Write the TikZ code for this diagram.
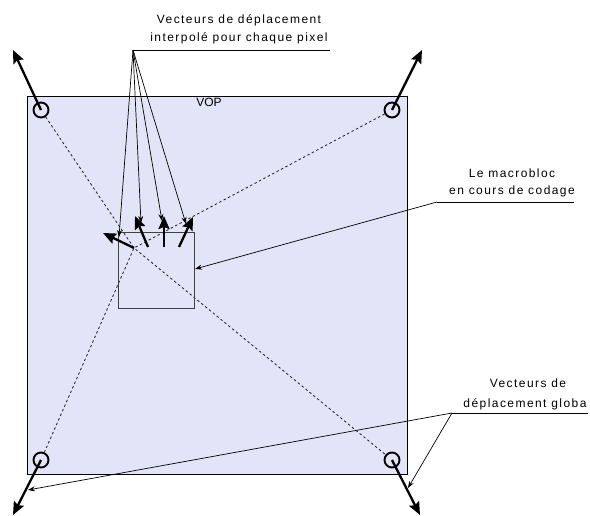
\documentclass[tikz,border=0pt]{standalone}
\usepackage{fontspec}
\setmainfont{Liberation Sans}[LetterSpace=12]
\usetikzlibrary{arrows.meta}
\definecolor{vopfill}{RGB}{228,228,248}
\begin{document}
\begin{tikzpicture}[x=1pt,y=-1pt,
  vop/.style={fill=vopfill, draw=black, line width=0.8pt},
  mbox/.style={draw=black!75, line width=1pt},
  corner/.style={circle, draw, line width=1.9pt, minimum size=15pt, inner sep=0pt},
  gvec/.style={line width=2.3pt, -{Stealth[length=13pt,width=11pt,inset=2pt]}},
  guide/.style={dash pattern=on 2.5pt off 2.5pt, line width=0.85pt, draw=black!85},
  lead/.style={line width=0.7pt, -{Stealth[length=7pt,width=5pt]}},
  uline/.style={line width=0.8pt},
  txt/.style={font=\fontsize{12}{14}\selectfont, anchor=base, inner sep=0pt}]
\useasboundingbox (0,0) rectangle (590,516);
% VOP
\node[vop, minimum width=380pt, minimum height=378pt, anchor=north west, inner sep=0pt] (vop) at (27,96) {};
\node[txt, font=\fontsize{12}{14}\selectfont\addfontfeature{LetterSpace=0}] (voplbl) at (209,107) {VOP};
% corners
\node[corner] (c1) at (41,110) {};
\node[corner] (c2) at (392,110) {};
\node[corner] (c3) at (41,460) {};
\node[corner] (c4) at (392,460) {};
\coordinate (p) at (134,248);
% guides
\draw[guide] (c1) -- (p) -- (c4);
\draw[guide] (c2) -- (p) -- (c3);
% macroblock
\node[mbox, minimum width=76pt, minimum height=76pt, anchor=north west, inner sep=0pt] (mb) at (118,232) {};
% global vectors
\coordinate (g1) at (13,50);
\coordinate (g2) at (422,50);
\coordinate (g3) at (13,515);
\coordinate (g4) at (420,515);
\draw[gvec] (c1.center) -- (g1);
\draw[gvec] (c2.center) -- (g2);
\draw[gvec] (c3.center) -- (g3);
\draw[gvec] (c4.center) -- (g4);
% pixel vectors
\coordinate (b2) at (148,247);
\coordinate (b3) at (164,247);
\coordinate (b4) at (179,247);
\coordinate (t1) at (103,233);
\coordinate (t2) at (135,216);
\coordinate (t3) at (164,216);
\coordinate (t4) at (193,217);
\draw[gvec] (p) -- (t1);
\draw[gvec] (b2) -- (t2);
\draw[gvec] (b3) -- (t3);
\draw[gvec] (b4) -- (t4);
% label 1
\node[txt] (l1a) at (239,24) {Vecteurs de déplacement};
\node[txt] (l1b) at (239,42) {interpolé pour chaque pixel};
\coordinate (u1s) at (133,50);
\coordinate (u1e) at (330,50);
\draw[uline] (u1s) -- (u1e);
\coordinate (e1) at (119,237);
\coordinate (e2) at (141,223);
\coordinate (e3) at (162,221);
\coordinate (e4) at (186,224);
\draw[lead] (u1s) -- (e1);
\draw[lead] (u1s) -- (e2);
\draw[lead] (u1s) -- (e3);
\draw[lead] (u1s) -- (e4);
% label 2
\node[txt] (l2a) at (512,178) {Le macrobloc};
\node[txt] (l2b) at (512,195) {en cours de codage};
\coordinate (u2s) at (437,202);
\coordinate (u2e) at (574,202);
\draw[uline] (u2s) -- (u2e);
\draw[lead] (u2s) -- (mb.east |- 0,269);
% label 3
\node[txt] (l3a) at (528,388) {Vecteurs de};
\node[txt] (l3b) at (525,407) {déplacement globa};
\coordinate (u3s) at (452,413);
\coordinate (u3e) at (588,413);
\draw[uline] (u3s) -- (u3e);
\coordinate (h3) at (28,490);
\coordinate (h4) at (408,488);
\draw[lead] (u3s) -- (h3);
\draw[lead] (u3s) -- (h4);
\end{tikzpicture}
\end{document}
